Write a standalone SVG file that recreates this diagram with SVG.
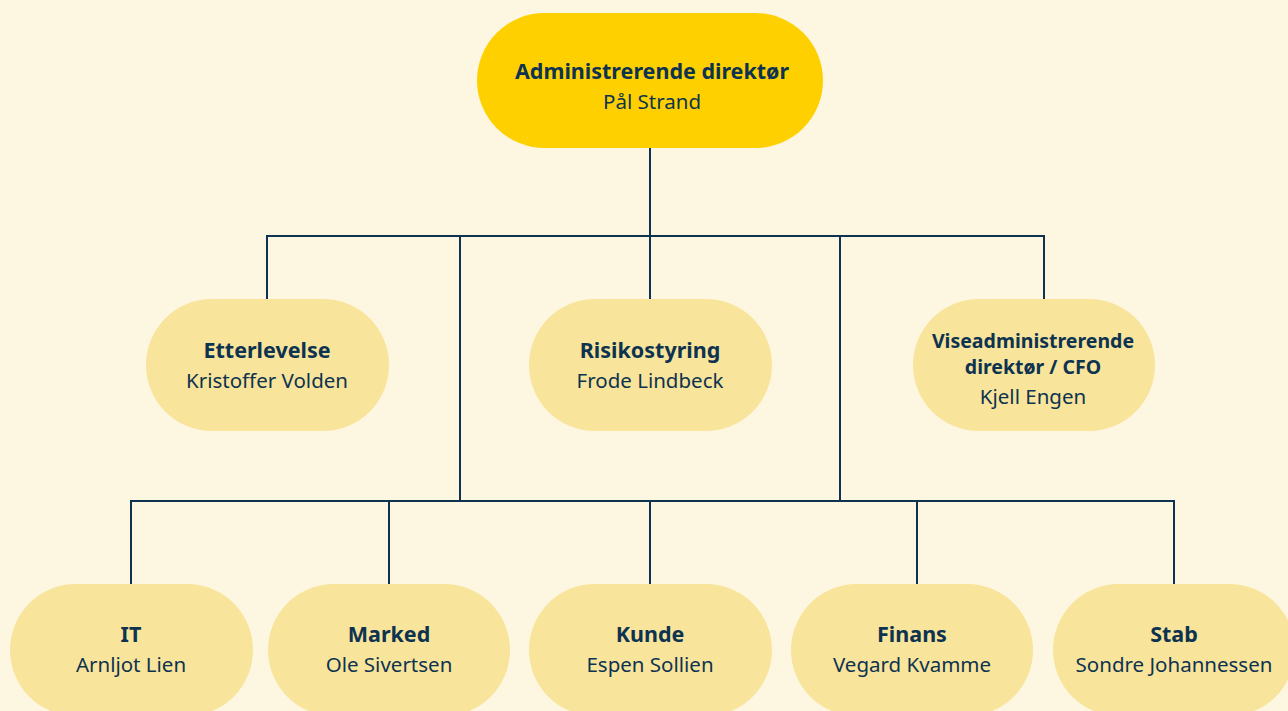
<svg xmlns="http://www.w3.org/2000/svg" width="1288" height="711" viewBox="0 0 1288 711">
<style>
.bg{fill:#FDF7E1}
.top{fill:#FFD000}
.node{fill:#F8E49A}
.t{font-family:"Noto Sans","Open Sans",sans-serif;fill:#0D3350;text-anchor:middle}
.b{font-weight:bold;font-size:21.5px}
.bs{font-weight:bold;font-size:19.5px}
.r{font-size:20.5px}
.conn{fill:none;stroke:#0D3350;stroke-width:2}
</style>
<rect class="bg" x="0" y="0" width="1288" height="711"/>
<g id="connectors">
<path class="conn" d="M650 148V236M267 299V236H1044V299M650 236V299M460 236V501M840 236V501M131 584V501H1174V584M389 501V584M650 501V584M917 501V584"/>
</g>
<g id="n-ceo"><rect class="top" x="477" y="13" width="346" height="135" rx="67.5"/><text class="t b" x="652" y="79">Administrerende direktør</text><text class="t r" x="652" y="109">Pål Strand</text></g>
<g id="n-etterlevelse"><rect class="node" x="146" y="299" width="243" height="132" rx="66"/><text class="t b" x="267" y="358">Etterlevelse</text><text class="t r" x="267" y="388">Kristoffer Volden</text></g>
<g id="n-risiko"><rect class="node" x="529" y="299" width="243" height="132" rx="66"/><text class="t b" x="650" y="358">Risikostyring</text><text class="t r" x="650" y="388">Frode Lindbeck</text></g>
<g id="n-cfo"><rect class="node" x="913" y="299" width="242" height="132" rx="66"/><text class="t bs" x="1033" y="348">Viseadministrerende</text><text class="t bs" x="1033" y="374">direktør / CFO</text><text class="t r" x="1033" y="404">Kjell Engen</text></g>
<g id="n-it"><rect class="node" x="10" y="584" width="243" height="132" rx="66"/><text class="t b" x="131" y="642">IT</text><text class="t r" x="131" y="672">Arnljot Lien</text></g>
<g id="n-marked"><rect class="node" x="268" y="584" width="242" height="132" rx="66"/><text class="t b" x="389" y="642">Marked</text><text class="t r" x="389" y="672">Ole Sivertsen</text></g>
<g id="n-kunde"><rect class="node" x="529" y="584" width="243" height="132" rx="66"/><text class="t b" x="650" y="642">Kunde</text><text class="t r" x="650" y="672">Espen Sollien</text></g>
<g id="n-finans"><rect class="node" x="791" y="584" width="242" height="132" rx="66"/><text class="t b" x="912" y="642">Finans</text><text class="t r" x="912" y="672">Vegard Kvamme</text></g>
<g id="n-stab"><rect class="node" x="1053" y="584" width="242" height="132" rx="66"/><text class="t b" x="1174" y="642">Stab</text><text class="t r" x="1174" y="672">Sondre Johannessen</text></g>
</svg>
